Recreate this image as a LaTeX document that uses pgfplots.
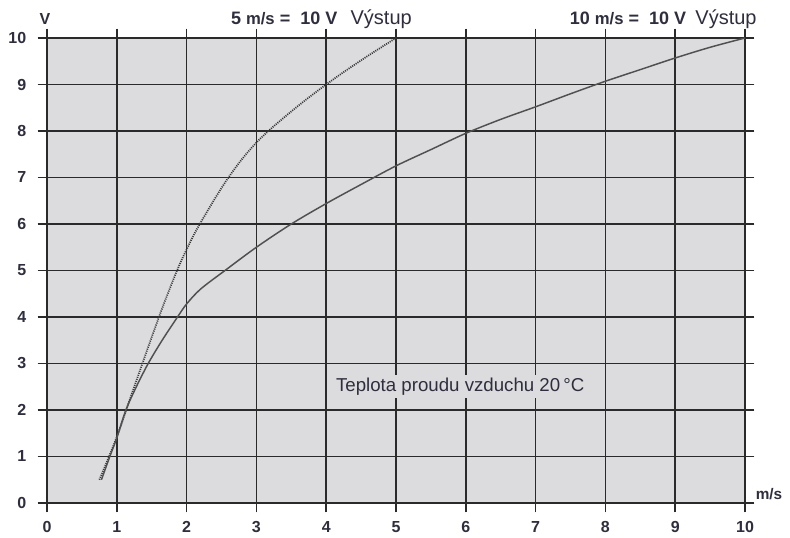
\documentclass[border=0pt]{standalone}
\usepackage{pgfplots}
\pgfplotsset{compat=1.18}
\usepackage{fontspec}
\setmainfont{Liberation Sans}
\definecolor{bgray}{HTML}{DCDCDE}
\definecolor{gridc}{HTML}{2A2A2A}
\definecolor{labc}{HTML}{2E2E3E}
\definecolor{curvec}{HTML}{505050}
\definecolor{dotc}{HTML}{3A3A3A}
\begin{document}
\begin{tikzpicture}
\begin{axis}[
  scale only axis,
  width=523.5pt, height=348.75pt,
  xmin=0, xmax=10, ymin=0, ymax=10,
  xtick={0,...,10}, ytick={0,...,10},
  axis background/.style={fill=bgray},
  grid=major,
  grid style={line width=1.1pt, color=gridc},
  axis line style={line width=1.1pt, color=gridc},
  tick style={line width=1.1pt, color=gridc},
  tick align=outside,
  major tick length=7pt,
  /pgf/number format/assume math mode=true,
  ticklabel style={font=\bfseries\fontsize{12}{14}\selectfont, text=labc},
  xticklabel style={yshift=-3pt},
  yticklabel style={xshift=-5pt},
  clip=false,
]
\addplot[dotc, line width=1.3pt, dash pattern=on 0.8pt off 0.8pt, smooth, tension=0.6] coordinates {
(0.75,0.5)(1,1.42)(1.25,2.5)(1.58,3.9)(1.83,4.88)(2,5.45)(2.19,6)(2.6,7)(3,7.75)(3.5,8.42)(4,9.0)(4.5,9.52)(5,10)};
\addplot[curvec, line width=1.1pt, smooth, tension=0.5] coordinates {
(0.78,0.5)(0.9,1.0)(1,1.4)(1.13,2)(1.28,2.5)(1.45,3)(1.65,3.5)(1.87,4)(2,4.28)(2.2,4.6)(2.55,5)(3,5.5)(3.5,6.0)(4,6.44)(4.5,6.85)(5,7.25)(5.5,7.6)(6,7.95)(6.5,8.25)(7,8.52)(7.5,8.8)(8,9.07)(8.5,9.32)(9,9.57)(9.5,9.8)(10,10)};
\node[fill=bgray, inner xsep=3pt, inner ysep=2pt, font=\fontsize{14}{16}\selectfont, text=labc] at (axis cs:5.92,2.5) {Teplota proudu vzduchu 20\,°C};
\coordinate (bl) at (rel axis cs:0,0);
\coordinate (tr) at (rel axis cs:1,1);
\node[anchor=base east, text=labc, inner sep=0pt] at ([yshift=9.75pt]axis cs:5.23,10) {{\bfseries\fontsize{13.5}{15}\selectfont 5 {\fontsize{12.5}{14}\selectfont m/s} = \ 10 V}\hspace{10pt}{\fontsize{15}{17}\selectfont Výstup}};
\node[anchor=base east, text=labc, inner sep=0pt] at ([yshift=9.75pt]axis cs:10.17,10) {{\bfseries\fontsize{13.5}{15}\selectfont 10 {\fontsize{12.5}{14}\selectfont m/s} = \ 10 V}\hspace{7pt}{\fontsize{15}{17}\selectfont Výstup}};
\node[anchor=base, text=labc, inner sep=0pt, font=\bfseries\fontsize{12}{14}\selectfont] at ([yshift=9.75pt]axis cs:-0.03,10) {V};
\node[anchor=base, text=labc, inner sep=0pt, font=\bfseries\fontsize{11.5}{13}\selectfont] at ([xshift=18pt,yshift=2.5pt]axis cs:10,0) {m/s};
\end{axis}
\pgfresetboundingbox
\path[use as bounding box] ([shift={(-35.25pt,-26.25pt)}]bl) rectangle ([shift={(33.75pt,28.5pt)}]tr);
\end{tikzpicture}
\end{document}
